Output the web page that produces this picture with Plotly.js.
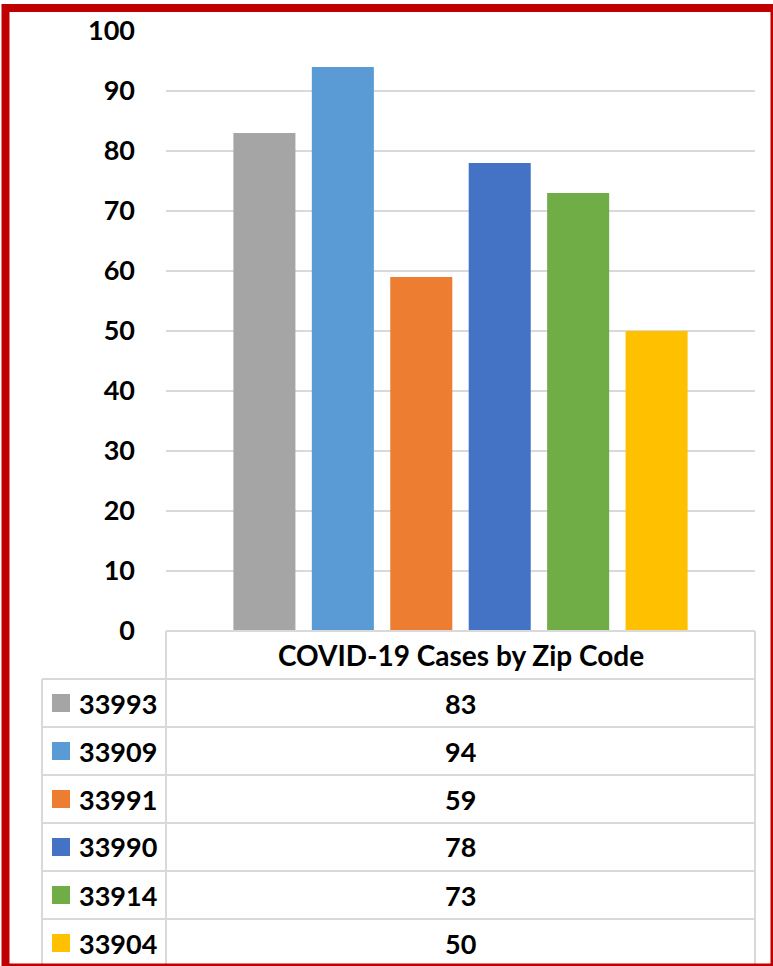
<!DOCTYPE html>
<html>
<head>
<meta charset="utf-8">
<script src="https://cdn.plot.ly/plotly-3.0.1.min.js"></script>
<style>
html,body{margin:0;padding:0;background:#fff;}
#chart{width:773px;height:966px;}
</style>
</head>
<body>
<div id="chart"></div>
<script>
// ---- data ----
const category = "COVID-19 Cases by Zip Code";
const zipCodes = ["33993", "33909", "33991", "33990", "33914", "33904"];
const cases = [83, 94, 59, 78, 73, 50];
const yTickValues = [0, 10, 20, 30, 40, 50, 60, 70, 80, 90, 100];

// ---- style ----
const colors = ["#a5a5a5", "#5b9bd5", "#ed7d31", "#4472c4", "#70ad47", "#ffc000"];
const W = 773, H = 966;
const L = 166, R = 755, T = 31, B = 631;
const px = x => (x - L) / (R - L);
const py = y => (B - y) / (B - T);
const fontFam = "Lato, 'Open Sans', sans-serif";
const gridColor = "#d9d9d9";
const rowH = 48;

const traces = zipCodes.map((z, i) => ({
  type: "bar",
  x: [category],
  y: [cases[i]],
  name: z,
  marker: {color: colors[i]},
  showlegend: false,
  hoverinfo: "name+y"
}));

const shapes = [];
const annotations = [];
const line = (x0, y0, x1, y1, color, width) => shapes.push({
  type: "line", xref: "paper", yref: "paper",
  x0: px(x0), y0: py(y0), x1: px(x1), y1: py(y1),
  line: {color: color, width: width}, layer: "above"
});

// table header row
line(L, B, R, B, gridColor, 2);
line(L, B, L, H + 2, gridColor, 2);
line(R, B, R, H + 2, gridColor, 2);
annotations.push({
  xref: "x", yref: "paper", x: category, y: py(B + rowH / 2),
  text: category, showarrow: false, xanchor: "center", yanchor: "middle",
  font: {family: fontFam, size: 28, color: "#000", weight: "bold"}
});
// rows
const keyLeft = 42;
zipCodes.forEach((z, i) => {
  const top = B + rowH * (i + 1);
  line(keyLeft, top, R, top, gridColor, 2);
  const mid = top + rowH / 2;
  shapes.push({
    type: "rect", xref: "paper", yref: "paper",
    x0: px(52), x1: px(70), y0: py(mid - 9), y1: py(mid + 9),
    fillcolor: colors[i], line: {width: 0}, layer: "above"
  });
  annotations.push({
    xref: "paper", yref: "paper", x: px(77), y: py(mid),
    text: z, showarrow: false, xanchor: "left", yanchor: "middle",
    font: {family: fontFam, size: 27, color: "#000", weight: "bold"}
  });
  annotations.push({
    xref: "x", yref: "paper", x: category, y: py(mid),
    text: String(cases[i]), showarrow: false, xanchor: "center", yanchor: "middle",
    font: {family: fontFam, size: 27, color: "#000", weight: "bold"}
  });
});
line(keyLeft, B + rowH, keyLeft, H + 2, gridColor, 2);

// red outer border
shapes.push({
  type: "rect", xref: "paper", yref: "paper",
  x0: px(5.5), x1: px(774.5), y0: py(8), y1: py(967.5),
  line: {color: "#c00000", width: 8}, fillcolor: "rgba(0,0,0,0)", layer: "above"
});

const layout = {
  width: W, height: H,
  margin: {l: L, r: W - R, t: T, b: H - B, pad: 0},
  paper_bgcolor: "#fff", plot_bgcolor: "#fff",
  barmode: "group",
  bargap: 0.201,
  bargroupgap: 0.209,
  xaxis: {showticklabels: false, showgrid: false, zeroline: false, showline: false, fixedrange: true},
  yaxis: {
    range: [0, 100], tickvals: yTickValues, ticktext: yTickValues.map(String),
    showgrid: true, gridcolor: gridColor, gridwidth: 2,
    zeroline: false, showline: false, ticks: "",
    ticklabelstandoff: 30,
    tickfont: {family: fontFam, size: 27, color: "#000", weight: "bold"},
    fixedrange: true
  },
  shapes: shapes,
  annotations: annotations,
  font: {family: fontFam}
};

Plotly.newPlot("chart", traces, layout, {displayModeBar: false, staticPlot: true});
</script>
</body>
</html>
